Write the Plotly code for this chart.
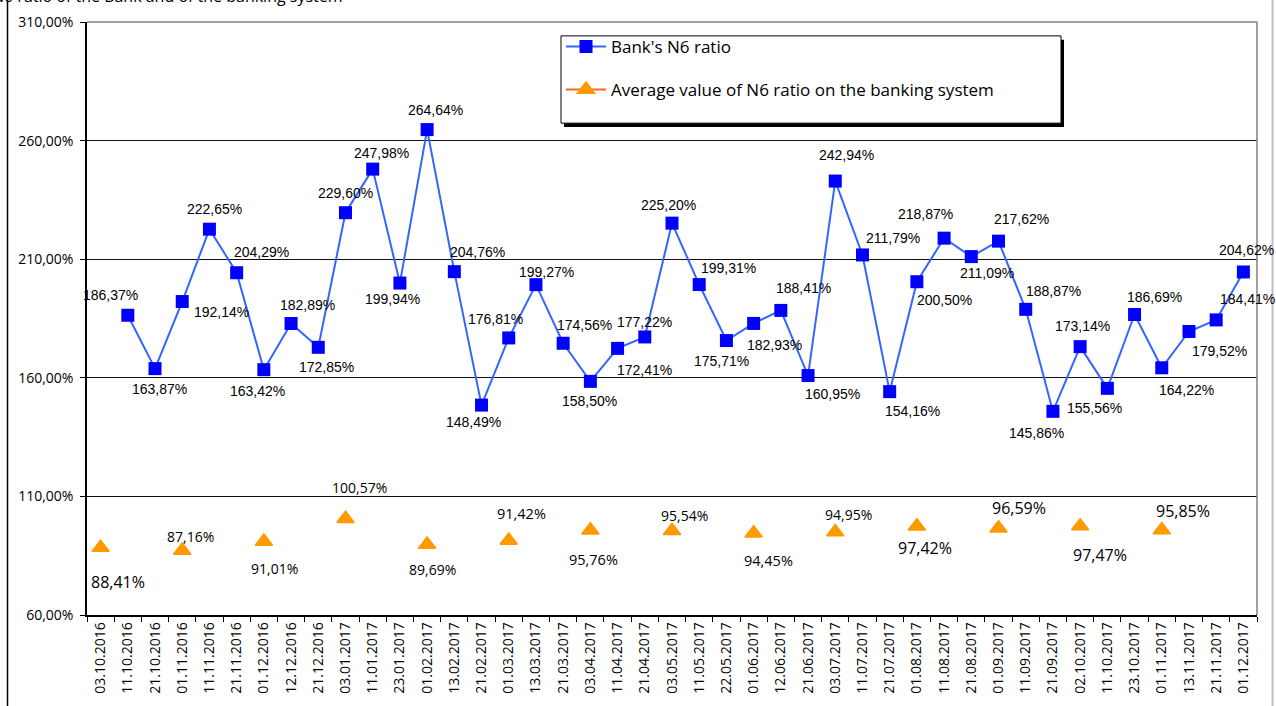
import plotly.graph_objects as go

# ---------------- data ----------------
dates = [
    "03.10.2016", "11.10.2016", "21.10.2016", "01.11.2016", "11.11.2016", "21.11.2016",
    "01.12.2016", "12.12.2016", "21.12.2016", "03.01.2017", "11.01.2017", "23.01.2017",
    "01.02.2017", "13.02.2017", "21.02.2017", "01.03.2017", "13.03.2017", "21.03.2017",
    "03.04.2017", "11.04.2017", "21.04.2017", "03.05.2017", "11.05.2017", "22.05.2017",
    "01.06.2017", "12.06.2017", "21.06.2017", "03.07.2017", "11.07.2017", "21.07.2017",
    "01.08.2017", "11.08.2017", "21.08.2017", "01.09.2017", "11.09.2017", "21.09.2017",
    "02.10.2017", "11.10.2017", "23.10.2017", "01.11.2017", "13.11.2017", "21.11.2017",
    "01.12.2017",
]

bank_dates = dates[1:]
bank_n6 = [
    186.37, 163.87, 192.14, 222.65, 204.29, 163.42, 182.89, 172.85, 229.60, 247.98,
    199.94, 264.64, 204.76, 148.49, 176.81, 199.27, 174.56, 158.50, 172.41, 177.22,
    225.20, 199.31, 175.71, 182.93, 188.41, 160.95, 242.94, 211.79, 154.16, 200.50,
    218.87, 211.09, 217.62, 188.87, 145.86, 173.14, 155.56, 186.69, 164.22, 179.52,
    184.41, 204.62,
]

avg_dates = [
    "03.10.2016", "01.11.2016", "01.12.2016", "03.01.2017", "01.02.2017", "01.03.2017",
    "03.04.2017", "03.05.2017", "01.06.2017", "03.07.2017", "01.08.2017", "01.09.2017",
    "02.10.2017", "01.11.2017",
]
avg_n6 = [88.41, 87.16, 91.01, 100.57, 89.69, 91.42, 95.76, 95.54, 94.45, 94.95,
          97.42, 96.59, 97.47, 95.85]

y_ticks = [60, 110, 160, 210, 260, 310]
y_tick_text = ["60,00%", "110,00%", "160,00%", "210,00%", "260,00%", "310,00%"]

series_names = ["Bank's N6 ratio", "Average value of N6 ratio on the banking system"]
title_text = "N6 ratio of the Bank and of the banking system"

# ---------------- label placement (styles) ----------------
bank_label_offsets = [
    (-17, -20), (4, 20), (39, 10), (5, -20), (25, -21), (-6, 21), (16, -19), (8, 20),
    (0, -20), (9, -16), (-7, 16), (8, -20), (23, -20), (-8, 17), (-13, -19), (11, -13),
    (21, -18), (-1, 20), (27, 22), (0, -15), (-4, -18), (29, -17), (-5, 20), (21, 22),
    (23, -22), (24, 18), (11, -26), (31, -17), (23, 19), (28, 18), (-19, -24), (16, 16),
    (23, -22), (28, -18), (-16, 22), (2, -21), (-13, 20), (20, -17), (25, 22), (31, 19),
    (31, -21), (3, -22),
]
avg_label_offsets = [
    (17, 34), (8, -14), (11, 27), (14, -31), (5, 25), (13, -27), (3, 29),
    (12, -15), (15, 27), (13, -18), (8, 22), (20, -20), (20, 29), (21, -19),
]
avg_label_sizes = [16, 14, 14, 14, 14, 14.5, 14.5, 14, 14.5, 14, 16, 16, 16, 16]

# ---------------- geometry ----------------
W, H = 1276, 706
ML, MR, MT, MB = 87, 19, 18, 90
PW = W - ML - MR
PH = H - MT - MB


def px_x(px):
    return (px - ML) / PW


def px_y(py):
    return 1 - (py - MT) / PH


def pct(v):
    return f"{v:.2f}".replace(".", ",") + "%"


avg_full = [None] * len(dates)
for d, v in zip(avg_dates, avg_n6):
    avg_full[dates.index(d)] = v

fig = go.Figure()
fig.add_trace(go.Scatter(
    x=bank_dates, y=bank_n6, name=series_names[0], mode="lines+markers",
    line=dict(color="#3366FF", width=2),
    marker=dict(symbol="square", size=13, color="#0000FF", line=dict(width=0)),
    legendgroup="a",
))
fig.add_trace(go.Scatter(
    x=dates, y=avg_full, name=series_names[1], mode="lines+markers",
    connectgaps=False,
    line=dict(color="#FF6A13", width=2),
    marker=dict(symbol="triangle-up", size=15, color="#FF9900",
                line=dict(width=1.5, color="#FF9900")),
    legendgroup="b",
))

annotations = []
for d, v, (dx, dy) in zip(bank_dates, bank_n6, bank_label_offsets):
    annotations.append(dict(
        x=d, y=v, xref="x", yref="y", text=pct(v), showarrow=False,
        xanchor="center", yanchor="middle", xshift=dx, yshift=-dy,
        font=dict(family="Liberation Sans, Arial", size=14, color="#000000"),
    ))
for d, v, (dx, dy), fs in zip(avg_dates, avg_n6, avg_label_offsets, avg_label_sizes):
    annotations.append(dict(
        x=d, y=v, xref="x", yref="y", text=pct(v), showarrow=False,
        xanchor="center", yanchor="middle", xshift=dx, yshift=-dy,
        font=dict(family="Open Sans", size=fs, color="#000000"),
    ))
# cropped chart title (only its lower edge is visible in the reference)
annotations.append(dict(
    x=px_x(345), y=px_y(0), xref="paper", yref="paper", text=title_text,
    showarrow=False, xanchor="right", yanchor="bottom", yshift=-5,
    font=dict(family="Open Sans", size=16, color="#000000"),
))

shapes = [
    # plot border top / right (gray)
    dict(type="line", xref="paper", yref="paper", x0=0, x1=1, y0=1, y1=1,
         line=dict(color="#808080", width=1.5), layer="above"),
    dict(type="line", xref="paper", yref="paper", x0=1, x1=1, y0=0, y1=1,
         line=dict(color="#808080", width=1.5), layer="above"),
    # chart-area borders
    dict(type="line", xref="paper", yref="paper", x0=px_x(7.5), x1=px_x(7.5),
         y0=px_y(-5), y1=px_y(H + 5), line=dict(color="#000000", width=1.5)),
    dict(type="line", xref="paper", yref="paper", x0=px_x(1272.5), x1=px_x(1272.5),
         y0=px_y(-5), y1=px_y(H + 5), line=dict(color="#BFBFBF", width=2)),
    # legend shadow and box
    dict(type="rect", xref="paper", yref="paper", x0=px_x(564), x1=px_x(1064),
         y0=px_y(36), y1=px_y(124), fillcolor="#000000", line=dict(width=0),
         layer="above"),
    dict(type="rect", xref="paper", yref="paper", x0=px_x(561), x1=px_x(1061),
         y0=px_y(32), y1=px_y(120), fillcolor="#FFFFFF",
         line=dict(color="#000000", width=1), layer="above"),
]

fig.update_layout(
    width=W, height=H,
    margin=dict(l=ML, r=MR, t=MT, b=MB),
    paper_bgcolor="#FFFFFF", plot_bgcolor="#FFFFFF",
    font=dict(family="Open Sans", color="#000000"),
    showlegend=True,
    legend=dict(
        x=px_x(561), y=px_y(25), xanchor="left", yanchor="top",
        bgcolor="rgba(0,0,0,0)", borderwidth=0,
        font=dict(family="Open Sans", size=17, color="#000000"),
        tracegroupgap=18, itemwidth=40,
    ),
    annotations=annotations,
    shapes=shapes,
    xaxis=dict(
        type="category", categoryorder="array", categoryarray=dates,
        range=[-0.5, len(dates) - 0.5],
        tickson="boundaries", ticks="outside", ticklen=5, tickcolor="#000000",
        showline=True, linecolor="#000000", linewidth=1.5,
        showgrid=False, tickangle=-90,
        tickfont=dict(family="Open Sans", size=14, color="#000000"),
    ),
    yaxis=dict(
        range=[60, 310], tickvals=y_ticks, ticktext=y_tick_text,
        ticks="outside", ticklen=5, tickcolor="#000000",
        showline=True, linecolor="#000000", linewidth=1.5,
        showgrid=True, gridcolor="#111111", gridwidth=1, zeroline=False,
        tickfont=dict(family="Open Sans", size=14, color="#000000"),
        ticklabelstandoff=4,
    ),
)

fig.write_html("out.html")
